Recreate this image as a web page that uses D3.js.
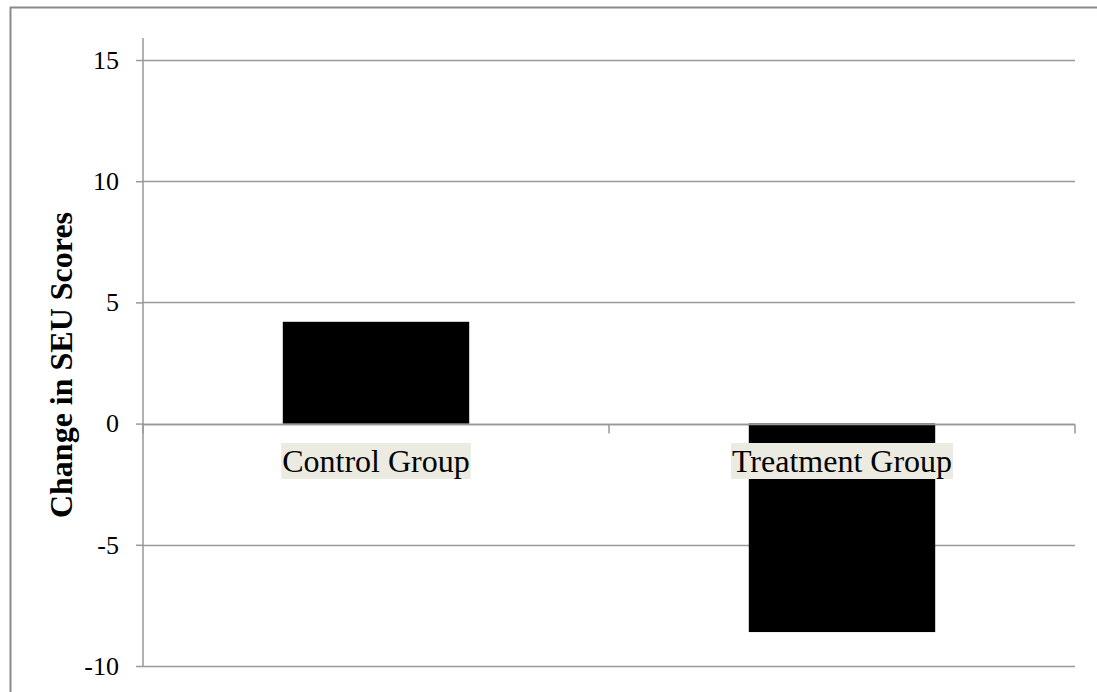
<!DOCTYPE html>
<html><head><meta charset="utf-8">
<script src="https://cdn.jsdelivr.net/npm/d3@7"></script>
<style>body{margin:0;background:#fff}svg{display:block}</style>
</head><body>
<svg id="c" width="1097" height="692"></svg>
<script>
const categories = ["Control Group", "Treatment Group"];
const values = [4.2, -8.6];
const yTicks = [-10, -5, 0, 5, 10, 15];
const yTitle = "Change in SEU Scores";

const svg = d3.select("#c");
const W = 1097, H = 692;
const m = {left: 143, right: 1075, top: 60, bottom: 666};
const grey = "#999";
const serif = "'Liberation Serif', 'Times New Roman', serif";

// outer frame
svg.append("line").attr("x1",10).attr("x2",W).attr("y1",7.5).attr("y2",7.5).attr("stroke","#8a8a8a").attr("stroke-width",2);
svg.append("line").attr("x1",10.5).attr("x2",10.5).attr("y1",7).attr("y2",H).attr("stroke","#8a8a8a").attr("stroke-width",2);

const y = d3.scaleLinear().domain([-10, 15]).range([m.bottom, m.top]);
const x = d3.scaleBand().domain(categories).range([m.left, m.right]).paddingInner(0.6).paddingOuter(0.3);
const step = x.step();

// gridlines
svg.append("g").selectAll("line").data(yTicks).join("line")
  .attr("x1", m.left).attr("x2", m.right)
  .attr("y1", d => Math.round(y(d))+0.5).attr("y2", d => Math.round(y(d))+0.5)
  .attr("stroke", grey).attr("stroke-width", 1.5);

// y axis
const yAxis = svg.append("g").attr("transform", `translate(${m.left},0)`)
  .call(d3.axisLeft(y).tickValues(yTicks).tickSize(7).tickPadding(17).tickFormat(d => String(d)));
yAxis.attr("font-size", null).attr("font-family", null);
yAxis.select(".domain").attr("stroke", grey).attr("stroke-width", 1.5).attr("d", `M0,${m.top-22}V${m.bottom}`);
yAxis.selectAll(".tick line").attr("stroke", grey).attr("stroke-width", 1.5);
yAxis.selectAll(".tick text").style("font-family", serif).style("font-size", "26px").attr("fill","#000");

// bars
svg.append("g").selectAll("rect").data(values).join("rect")
  .attr("x", (d,i) => x(categories[i]))
  .attr("width", x.bandwidth())
  .attr("y", d => y(Math.max(0,d)))
  .attr("height", d => Math.abs(y(d) - y(0)))
  .attr("fill", "#000");

// x axis at zero
const y0 = Math.round(y(0))+0.5;
svg.append("line").attr("x1", m.left).attr("x2", m.right).attr("y1", y0).attr("y2", y0).attr("stroke", grey).attr("stroke-width", 1.5);
const bounds = [m.left, m.left + step, m.right];
svg.append("g").selectAll("line").data(bounds).join("line")
  .attr("x1", d => d).attr("x2", d => d).attr("y1", y0).attr("y2", y0 + 9)
  .attr("stroke", grey).attr("stroke-width", 1.5);

// category labels with background
const lg = svg.append("g").selectAll("g").data(categories).join("g");
lg.each(function(c){
  const g = d3.select(this);
  const cx = x(c) + x.bandwidth()/2;
  const t = g.append("text").attr("x", cx).attr("y", 472).attr("text-anchor","middle")
    .style("font-family", serif).style("font-size", "32px").attr("fill","#000").text(c);
  const bb = t.node().getBBox();
  g.insert("rect","text").attr("x", bb.x - 1).attr("y", 443).attr("width", bb.width + 2).attr("height", 36).attr("fill", "#ecebe1");
});

// y title
svg.append("text").attr("transform", `translate(72,365) rotate(-90)`)
  .attr("text-anchor","middle").style("font-family", serif).attr("font-weight","bold")
  .style("font-size", "32px").attr("fill","#000").text(yTitle);
</script>
</body></html>
